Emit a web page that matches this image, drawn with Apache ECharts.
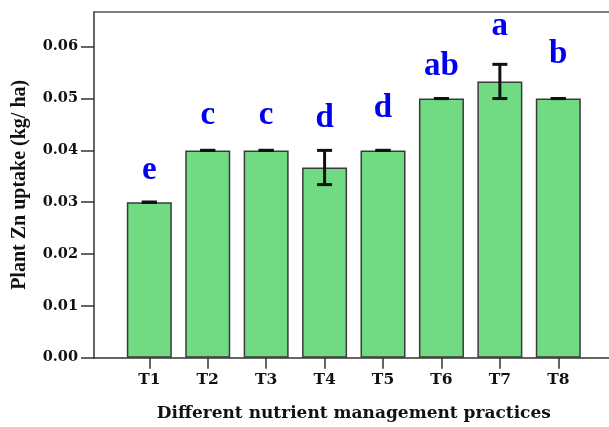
<!DOCTYPE html>
<html>
<head>
<meta charset="utf-8">
<script src="https://cdn.jsdelivr.net/npm/echarts/dist/echarts.min.js"></script>
<style>
  html, body { margin: 0; padding: 0; background: #fff; }
  #chart { width: 609px; height: 427px; }
</style>
</head>
<body>
<div id="chart"></div>
<script>
// Plant Zn uptake under eight nutrient management practices
const categories = ['T1', 'T2', 'T3', 'T4', 'T5', 'T6', 'T7', 'T8'];
const means = [0.030, 0.040, 0.040, 0.0367, 0.040, 0.050, 0.0533, 0.050];
const errors = [0, 0, 0, 0.0033, 0, 0, 0.0033, 0];
const letters = ['e', 'c', 'c', 'd', 'd', 'ab', 'a', 'b'];
const yTicks = [0, 0.01, 0.02, 0.03, 0.04, 0.05, 0.06];

// layout: baseline lift of each significance letter above its whisker top (px)
const letterLift = [22, 25, 25, 22, 32, 23, 28, 35];

const Y_MAX = 0.0667;
const SERIF = '"Liberation Serif", "Times New Roman", serif';
const WIDE_SERIF = '"DejaVu Serif", serif';
const AXIS_COLOR = '#333';
const TEXT_COLOR = '#111';

const chart = echarts.init(document.getElementById('chart'), null, { renderer: 'canvas' });

const option = {
  animation: false,
  backgroundColor: '#fff',
  grid: [
    // outer frame
    { left: 94, top: 12, right: 0, bottom: 69.3 },
    // bars
    { left: 120.1, top: 12, right: 21.5, bottom: 69.3 }
  ],
  xAxis: [
    {
      gridIndex: 0, type: 'value', min: 0, max: 1, position: 'bottom',
      axisLine: { show: true, onZero: false, lineStyle: { color: AXIS_COLOR, width: 1.5 } },
      axisTick: { show: false }, axisLabel: { show: false }, splitLine: { show: false }
    },
    {
      gridIndex: 0, type: 'value', min: 0, max: 1, position: 'top',
      axisLine: { show: true, onZero: false, lineStyle: { color: '#555', width: 1.5 } },
      axisTick: { show: false }, axisLabel: { show: false }, splitLine: { show: false }
    },
    {
      gridIndex: 1, type: 'category', data: categories, position: 'bottom',
      axisLine: { show: false },
      axisTick: { show: true, alignWithLabel: true, length: 11, lineStyle: { color: AXIS_COLOR, width: 1.5 } },
      axisLabel: { margin: 14, color: TEXT_COLOR, fontFamily: WIDE_SERIF, fontWeight: 'bold', fontSize: 15.5 },
      name: 'Different nutrient management practices',
      nameLocation: 'middle', nameGap: 47,
      nameTextStyle: { color: TEXT_COLOR, fontFamily: WIDE_SERIF, fontWeight: 'bold', fontSize: 17 }
    }
  ],
  yAxis: [
    {
      gridIndex: 0, type: 'value', min: 0, max: Y_MAX,
      axisLine: { show: true, onZero: false, lineStyle: { color: AXIS_COLOR, width: 1.5 } },
      axisTick: { show: true, length: 13, customValues: yTicks, lineStyle: { color: AXIS_COLOR, width: 1.5 } },
      axisLabel: {
        customValues: yTicks, margin: 16, color: TEXT_COLOR,
        fontFamily: WIDE_SERIF, fontWeight: 'bold', fontSize: 14.5,
        formatter: v => v.toFixed(2)
      },
      splitLine: { show: false },
      name: 'Plant Zn uptake (kg/ ha)',
      nameLocation: 'middle', nameGap: 64,
      nameTextStyle: { color: TEXT_COLOR, fontFamily: SERIF, fontWeight: 'bold', fontSize: 20 }
    },
    {
      gridIndex: 1, type: 'value', min: 0, max: Y_MAX, show: false
    }
  ],
  series: [
    {
      type: 'bar',
      xAxisIndex: 2, yAxisIndex: 1,
      data: means,
      barWidth: 45,
      itemStyle: { color: '#70db83', borderColor: '#3a3a3a', borderWidth: 1.5 },
      z: 2
    },
    {
      // standard error whiskers and significance letters
      type: 'custom',
      xAxisIndex: 2, yAxisIndex: 1,
      data: means.map((m, i) => [i, m, errors[i]]),
      z: 5,
      renderItem: function (params, api) {
        const i = api.value(0);
        const m = api.value(1);
        const e = api.value(2);
        const hi = api.coord([i, m + e]);
        const lo = api.coord([i, m - e]);
        const x = hi[0];
        const cap = 7.5;
        const stroke = { stroke: '#111', lineWidth: 3 };
        return {
          type: 'group',
          children: [
            { type: 'line', shape: { x1: x, y1: hi[1], x2: x, y2: lo[1] }, style: stroke },
            { type: 'line', shape: { x1: x - cap, y1: hi[1], x2: x + cap, y2: hi[1] }, style: stroke },
            { type: 'line', shape: { x1: x - cap, y1: lo[1], x2: x + cap, y2: lo[1] }, style: stroke },
            {
              type: 'text',
              x: x,
              y: hi[1] - letterLift[i] + 7,
              style: {
                text: letters[i],
                fill: '#0000ee',
                font: 'bold 33px ' + SERIF,
                align: 'center',
                verticalAlign: 'bottom'
              }
            }
          ]
        };
      }
    }
  ]
};

chart.setOption(option);
</script>
</body>
</html>
